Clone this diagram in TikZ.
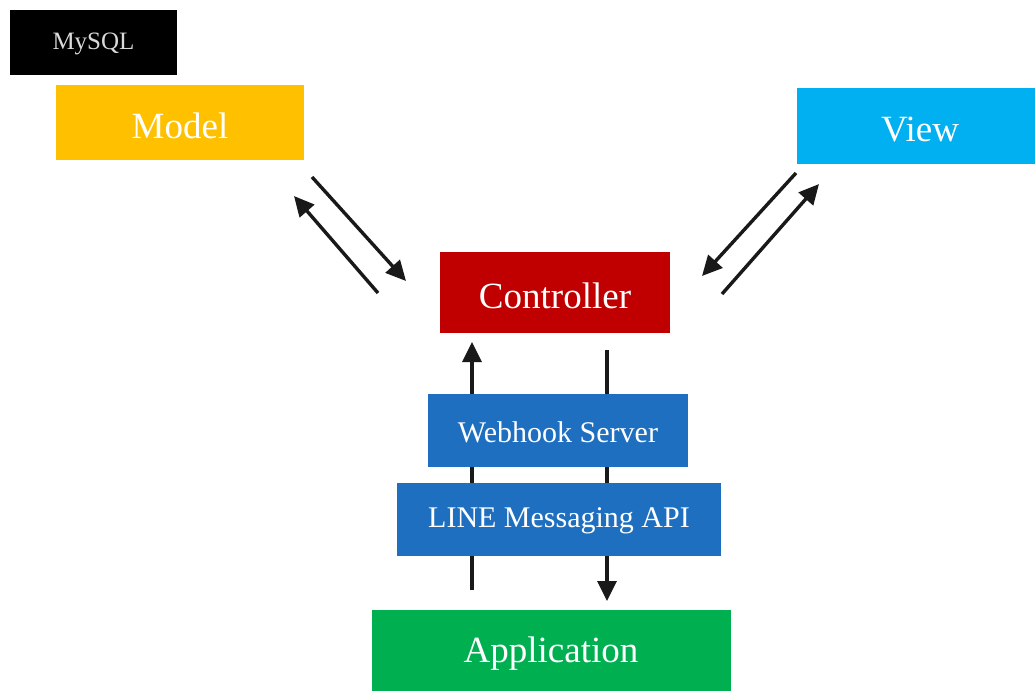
\documentclass[tikz,border=0pt]{standalone}
\usepackage{fontspec}
\setmainfont{Liberation Serif}
\usetikzlibrary{arrows.meta}
\definecolor{cmodel}{HTML}{FFC000}
\definecolor{cview}{HTML}{00B0F0}
\definecolor{cctrl}{HTML}{C00000}
\definecolor{cblue}{HTML}{1F6FC0}
\definecolor{capp}{HTML}{00B050}
\begin{document}
\begin{tikzpicture}[x=1pt,y=-1pt,
  box/.style={draw=none,text=white,inner sep=0pt,anchor=center},
  arr/.style={line width=3.4pt,draw=black!90,-{Triangle[length=20pt,width=19pt]}},
  big/.style={font=\fontsize{37}{40}\selectfont},
  mid/.style={font=\fontsize{30}{34}\selectfont}]
\useasboundingbox (0,0) rectangle (1035,691);
\fill[white] (0,0) rectangle (1035,691);
% arrows (drawn under boxes)
\coordinate (a1s) at (312,177); \coordinate (a1e) at (406,281);
\coordinate (a2s) at (378,293); \coordinate (a2e) at (294,196);
\coordinate (a3s) at (796,173); \coordinate (a3e) at (702,276);
\coordinate (a4s) at (722,294); \coordinate (a4e) at (819,184);
\coordinate (a5s) at (472,590); \coordinate (a5e) at (472,342);
\coordinate (a6s) at (607,350); \coordinate (a6e) at (607,601);
\draw[arr] (a1s) -- (a1e);
\draw[arr] (a2s) -- (a2e);
\draw[arr] (a3s) -- (a3e);
\draw[arr] (a4s) -- (a4e);
\draw[arr] (a5s) -- (a5e);
\draw[arr] (a6s) -- (a6e);
% boxes
\fill[black] (10,10) rectangle (177,75);
\node[box,font=\fontsize{25}{28}\selectfont,text=white!85!black] (mysql) at (93.5,44) {MySQL};
\fill[cmodel] (56,85) rectangle (304,160);
\node[box,big] (model) at (180,126) {Model};
\fill[cview] (797,88) rectangle (1035,164);
\node[box,big] (view) at (920,130) {View};
\fill[cctrl] (440,252) rectangle (670,333);
\node[box,big] (ctrl) at (555,296) {Controller};
\fill[cblue] (428,394) rectangle (688,467);
\node[box,mid] (web) at (558,432) {Webhook Server};
\fill[cblue] (397,483) rectangle (721,556);
\node[box,mid] (line) at (559,521) {LINE Messaging API};
\fill[capp] (372,610) rectangle (731,691);
\node[box,big] (app) at (551,654) {Application};
\end{tikzpicture}
\end{document}
